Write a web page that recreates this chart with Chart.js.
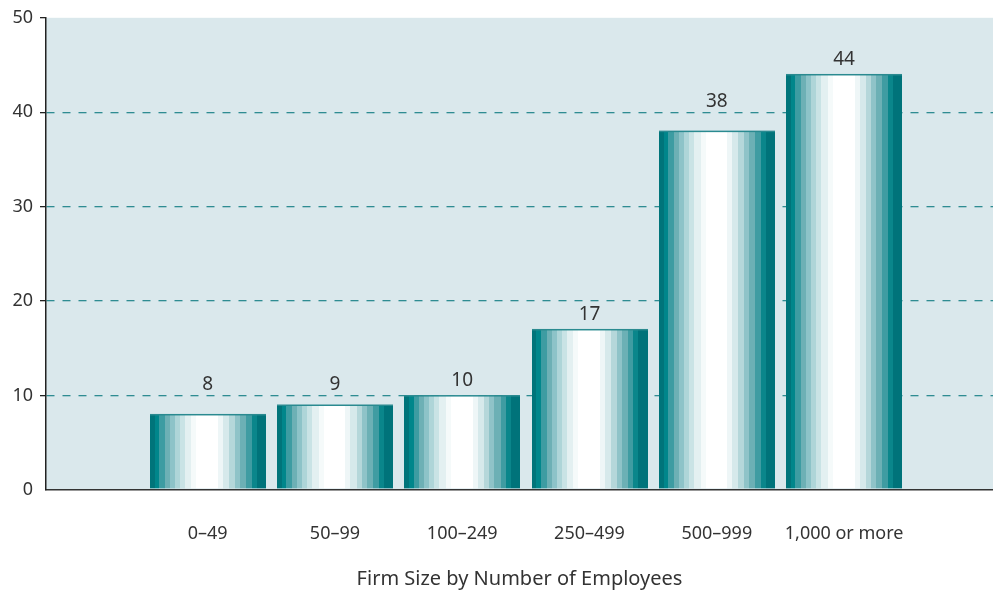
<!DOCTYPE html>
<html>
<head>
<meta charset="utf-8">
<script src="https://cdn.jsdelivr.net/npm/chart.js@4.4.0/dist/chart.umd.min.js"></script>
<style>
  body { margin: 0; background: #fff; }
  canvas { display: block; }
</style>
</head>
<body>
<canvas id="myChart" width="993" height="594"></canvas>
<script>
var categories = ['0–49', '50–99', '100–249', '250–499', '500–999', '1,000 or more'];
var firmCounts = [8, 9, 10, 17, 38, 44];
var yTicks = [0, 10, 20, 30, 40, 50];
var xTitle = 'Firm Size by Number of Employees';

var FONT = '"Noto Sans", sans-serif';
var TEXT = '#333';

// vertical bands that shade each bar: [start as fraction of width, colour]
var stripes = [
    [0.000, '#00747a'], [0.043, '#00868b'], [0.081, '#3d9ca2'], [0.130, '#6db0b5'],
    [0.173, '#8dc3c8'], [0.216, '#aed5d8'], [0.259, '#c9e3e5'], [0.303, '#e3f0f1'],
    [0.360, '#f5fafa'], [0.403, '#ffffff'], [0.591, '#eef6f7'], [0.634, '#d6e9eb'],
    [0.686, '#b5d7da'], [0.735, '#8fc3c8'], [0.778, '#6cb0b5'], [0.830, '#3f9ca2'],
    [0.879, '#0a868b'], [0.922, '#00737a']
];

// light panel behind the plot
var plotBackground = {
    id: 'plotBackground',
    beforeDraw: function(chart) {
        var a = chart.chartArea;
        var ctx = chart.ctx;
        ctx.save();
        ctx.fillStyle = '#dae8ec';
        ctx.fillRect(a.left, a.top, a.right - a.left, a.bottom - a.top);
        ctx.restore();
    }
};

// paints the striped bars and the value above each one
var stripedBars = {
    id: 'stripedBars',
    afterDatasetsDraw: function(chart) {
        var ctx = chart.ctx;
        var yScale = chart.scales.y;
        var gridPx = yTicks.map(function(v) { return yScale.getPixelForValue(v); });

        chart.getDatasetMeta(0).data.forEach(function(bar, i) {
            var p = bar.getProps(['x', 'y', 'base', 'width'], true);
            var left = p.x - p.width / 2;
            var bottom = p.base - 1;
            ctx.save();
            for (var s = 0; s < stripes.length; s++) {
                var x0 = Math.round(left + stripes[s][0] * p.width);
                var x1 = Math.round(left + (s + 1 < stripes.length ? stripes[s + 1][0] : 1) * p.width);
                ctx.fillStyle = stripes[s][1];
                ctx.fillRect(x0, p.y, x1 - x0, bottom - p.y);
            }
            ctx.fillStyle = '#2a8a90';
            ctx.fillRect(Math.round(left), p.y - 0.5, Math.round(p.width), 1.5);

            // keep the number clear of the dashed lines
            var ly = p.y - 15;
            gridPx.forEach(function(g) {
                if (Math.abs(ly - g) < 12) ly = g - 11;
            });
            ctx.fillStyle = TEXT;
            ctx.font = '19px ' + FONT;
            ctx.textAlign = 'center';
            ctx.textBaseline = 'middle';
            ctx.fillText(String(firmCounts[i]), p.x, ly);
            ctx.restore();
        });
    }
};

var points = categories.map(function(c, i) {
    return { x: i + 1, y: firmCounts[i] };
});

var ctx = document.getElementById('myChart').getContext('2d');
var myChart = new Chart(ctx, {
    type: 'bar',
    data: {
        datasets: [{
            data: points,
            backgroundColor: 'rgba(0,0,0,0)',
            borderWidth: 0,
            barThickness: 116
        }]
    },
    options: {
        responsive: false,
        animation: false,
        events: [],
        layout: { padding: { top: 16, right: 0, left: 0, bottom: 0 } },
        plugins: {
            legend: { display: false },
            tooltip: { enabled: false }
        },
        scales: {
            x: {
                type: 'linear',
                offset: false,
                min: -0.27,
                max: 7.17,
                afterBuildTicks: function(scale) {
                    scale.ticks = categories.map(function(c, i) { return { value: i + 1 }; });
                },
                ticks: {
                    callback: function(v) { return categories[v - 1]; },
                    autoSkip: false,
                    maxRotation: 0,
                    color: TEXT,
                    font: { family: FONT, size: 18 },
                    padding: 33
                },
                grid: { display: false, drawTicks: false },
                border: { color: '#333', width: 1.5 },
                title: {
                    display: true,
                    text: xTitle,
                    color: TEXT,
                    font: { family: FONT, size: 20 },
                    padding: { top: 0, bottom: 3 }
                },
                afterFit: function(scale) { scale.height = 104; }
            },
            y: {
                min: 0,
                max: 50,
                afterBuildTicks: function(scale) {
                    scale.ticks = yTicks.map(function(v) { return { value: v }; });
                },
                ticks: {
                    color: TEXT,
                    font: { family: FONT, size: 18 },
                    padding: 7
                },
                grid: {
                    color: function(c) {
                        return (c.tick && c.tick.value > 0 && c.tick.value < 50) ? '#2f8c92' : 'rgba(0,0,0,0)';
                    },
                    tickColor: function(c) {
                        return (c.tick && c.tick.value > 0) ? '#222' : 'rgba(0,0,0,0)';
                    },
                    lineWidth: 1.3,
                    tickLength: 6
                },
                border: { color: '#222', width: 1.5, dash: [8, 8] },
                afterFit: function(scale) { scale.width = 46; }
            }
        }
    },
    plugins: [plotBackground, stripedBars]
});
</script>
</body>
</html>
